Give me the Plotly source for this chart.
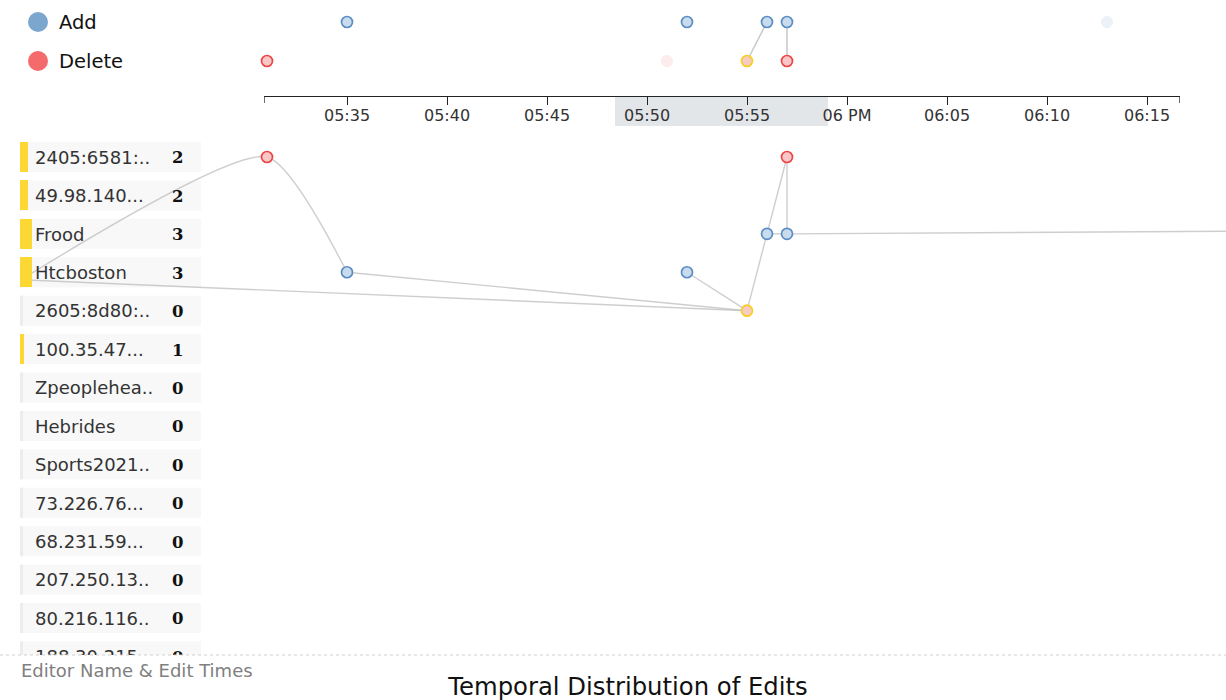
import plotly.graph_objects as go

# ---------------- data ----------------
editor_names = ["2405:6581:..", "49.98.140...", "Frood", "Htcboston", "2605:8d80:..",
                "100.35.47...", "Zpeoplehea..", "Hebrides", "Sports2021..", "73.226.76...",
                "68.231.59...", "207.250.13..", "80.216.116..", "188.30.215..."]
editor_edit_counts = [2, 2, 3, 3, 0, 1, 0, 0, 0, 0, 0, 0, 0, 0]

# edits on the timeline
edit_times = ["05:31", "05:35", "05:51", "05:52", "05:55", "05:56", "05:57", "05:57", "06:13"]
edit_types = ["Delete", "Add", "Delete", "Add", "Delete", "Add", "Add", "Delete", "Add"]
edit_state = ["on", "on", "faded", "on", "selected", "on", "on", "on", "faded"]
edit_editor_row = [0, 3, None, 3, 4, 2, 2, 0, None]

# related edits (index pairs) shown in the timeline strip
timeline_links = [(5, 4), (6, 7)]

# link anchors outside the time view (editor label / later edits)
offview_times = {"label_a": "05:19", "label_b": "05:19", "late": "06:45"}
offview_rows = {"label_a": 3.1, "label_b": 3.2, "late": 1.85}

# links in the main panel (sequences of nodes)
curved_links = [["label_a", 0, 1]]
straight_links = [[1, 4], ["label_b", 4], [3, 4], [4, 5], [5, 7], [7, 6], [5, 6], [6, "late"]]

tick_times = ["05:35", "05:40", "05:45", "05:50", "05:55", "06:00", "06:05", "06:10", "06:15"]
tick_labels = ["05:35", "05:40", "05:45", "05:50", "05:55", "06 PM", "06:05", "06:10", "06:15"]
view_span = ["05:17:39", "06:18:57"]      # full width of the main panel
axis_span = ["05:30:51", "06:16:39"]      # extent of the timeline axis
brush_span = ["05:48:24", "05:59:03"]     # selected window

type_order = ["Add", "Delete"]
legend_colors = {"Add": "#7ba7cf", "Delete": "#f56b6b"}


def to_min(t):
    parts = [int(p) for p in t.split(":")]
    h, m = parts[0], parts[1]
    s = parts[2] if len(parts) > 2 else 0
    return h * 60 + m + s / 60.0 - 300.0


# ---------------- layout geometry ----------------
W, H = 1226, 700
v0, v1 = to_min(view_span[0]), to_min(view_span[1])
a0, a1 = to_min(axis_span[0]), to_min(axis_span[1])
row_px0, row_pitch = 157.0, 38.42
main_top_px, main_bot_px = 138.0, 655.0
top_axis_px = 96.0
add_px, del_px = 22.0, 61.0

def py(p):
    return 1 - p / H

main_y_range = [(main_bot_px - row_px0) / row_pitch, (main_top_px - row_px0) / row_pitch]
top_pitch = del_px - add_px
top_y_range = [(top_axis_px - add_px) / top_pitch, -add_px / top_pitch]

# ---------------- styles ----------------
style = {
    ("Add", "on"): dict(color="#c9dcee", line=dict(color="#5b8dc4", width=1.7)),
    ("Delete", "on"): dict(color="#f8c8c8", line=dict(color="#ee4646", width=1.7)),
    ("Delete", "selected"): dict(color="#f6cbc2", line=dict(color="#f8cf1e", width=1.7)),
    ("Add", "faded"): dict(color="#edf2f8", line=dict(color="#edf2f8", width=1)),
    ("Delete", "faded"): dict(color="#fdecec", line=dict(color="#fdecec", width=1)),
}
LINK = "rgba(190,190,190,0.75)"

fig = go.Figure()

# ---------- timeline strip ----------
for (i, j) in timeline_links:
    fig.add_trace(go.Scatter(
        x=[to_min(edit_times[i]), to_min(edit_times[j])],
        y=[type_order.index(edit_types[i]), type_order.index(edit_types[j])],
        xaxis="x2", yaxis="y2", mode="lines",
        line=dict(color="#c8c8c8", width=1.5), hoverinfo="skip", showlegend=False))

for key, st in style.items():
    idx = [k for k in range(len(edit_times)) if (edit_types[k], edit_state[k]) == key]
    if not idx:
        continue
    fig.add_trace(go.Scatter(
        x=[to_min(edit_times[k]) for k in idx],
        y=[type_order.index(edit_types[k]) for k in idx],
        xaxis="x2", yaxis="y2", mode="markers", cliponaxis=False,
        marker=dict(size=11, **st), name=key[0], showlegend=False))

# ---------- main panel links ----------
def node_xy(n):
    if isinstance(n, str):
        return to_min(offview_times[n]), offview_rows[n]
    return to_min(edit_times[n]), edit_editor_row[n]

for seq in curved_links:
    pts = [node_xy(n) for n in seq]
    fig.add_trace(go.Scatter(
        x=[p[0] for p in pts], y=[p[1] for p in pts], xaxis="x", yaxis="y",
        mode="lines", line=dict(color=LINK, width=1.4, shape="spline", smoothing=0.6),
        hoverinfo="skip", showlegend=False))

sx, sy = [], []
for seq in straight_links:
    for n in seq:
        x, y = node_xy(n)
        sx.append(x)
        sy.append(y)
    sx.append(None)
    sy.append(None)
fig.add_trace(go.Scatter(x=sx, y=sy, xaxis="x", yaxis="y", mode="lines",
                         line=dict(color=LINK, width=1.4), hoverinfo="skip", showlegend=False))

# ---------- main panel points ----------
for key, st in style.items():
    idx = [k for k in range(len(edit_times))
           if (edit_types[k], edit_state[k]) == key and edit_editor_row[k] is not None]
    if not idx:
        continue
    fig.add_trace(go.Scatter(
        x=[to_min(edit_times[k]) for k in idx],
        y=[edit_editor_row[k] for k in idx],
        xaxis="x", yaxis="y", mode="markers",
        marker=dict(size=11, **st), name=key[0], showlegend=False))

# ---------- editor labels ----------
rows = list(range(len(editor_names)))
fig.add_trace(go.Bar(
    x=editor_edit_counts, y=rows, orientation="h", xaxis="x5", yaxis="y",
    base=0, width=0.78, marker=dict(color="#fdd835", line=dict(width=0)),
    hoverinfo="skip", showlegend=False))
fig.add_trace(go.Scatter(
    x=[35] * len(rows), y=[r + 0.06 for r in rows], xaxis="x4", yaxis="y", mode="text",
    text=editor_names, textposition="middle right", cliponaxis=True,
    textfont=dict(family="DejaVu Sans", size=18, color="#333333"),
    hoverinfo="skip", showlegend=False))
fig.add_trace(go.Scatter(
    x=[172] * len(rows), y=[r + 0.06 for r in rows], xaxis="x4", yaxis="y", mode="text",
    text=[str(c) for c in editor_edit_counts], textposition="middle right", cliponaxis=True,
    textfont=dict(family="DejaVu Serif", size=16.5, color="#111111", weight="bold"),
    hoverinfo="skip", showlegend=False))

shapes = []
for r in rows:
    shapes.append(dict(type="rect", xref="x4", yref="y", x0=20, x1=201, y0=r - 0.39, y1=r + 0.39,
                       fillcolor="#f8f8f8", line=dict(width=0), layer="below"))
    shapes.append(dict(type="rect", xref="x4", yref="y", x0=20, x1=23, y0=r - 0.39, y1=r + 0.39,
                       fillcolor="#ececec", line=dict(width=0), layer="below"))

# brush window
shapes.append(dict(type="rect", xref="x2", yref="paper",
                   x0=to_min(brush_span[0]), x1=to_min(brush_span[1]),
                   y0=py(126), y1=py(top_axis_px),
                   fillcolor="#e3e6e9", line=dict(width=0), layer="below"))
# axis end ticks
for e in (a0, a1):
    shapes.append(dict(type="line", xref="x2", yref="paper", x0=e, x1=e,
                       y0=py(top_axis_px), y1=py(top_axis_px + 7),
                       line=dict(color="#222222", width=1.3)))
# dashed separator
shapes.append(dict(type="line", xref="paper", yref="paper", x0=0, x1=1,
                   y0=py(655), y1=py(655), line=dict(color="#d0d0d0", width=1, dash="dot")))
# legend circles
for k, t in enumerate(type_order):
    cy = add_px + k * top_pitch
    shapes.append(dict(type="circle", xref="paper", yref="paper",
                       x0=28 / W, x1=48 / W, y0=py(cy + 10), y1=py(cy - 10),
                       fillcolor=legend_colors[t], line=dict(width=0)))

annotations = []
for k, t in enumerate(type_order):
    cy = add_px + k * top_pitch
    annotations.append(dict(text=t, xref="paper", yref="paper", x=57 / W, y=py(cy),
                            xanchor="left", yanchor="middle", showarrow=False,
                            font=dict(family="DejaVu Sans", size=19.5, color="#111111")))
annotations.append(dict(text="Editor Name & Edit Times", xref="paper", yref="paper",
                        x=19 / W, y=py(670), xanchor="left", yanchor="middle", showarrow=False,
                        font=dict(family="DejaVu Sans", size=18, color="#808080")))

fig.update_layout(
    width=W, height=H, autosize=False,
    margin=dict(l=0, r=0, t=0, b=0, pad=0),
    paper_bgcolor="white", plot_bgcolor="rgba(0,0,0,0)",
    title=dict(text="Temporal Distribution of Edits", x=628 / W, xanchor="center",
               y=py(686), yanchor="middle",
               font=dict(family="DejaVu Sans", size=24.3, color="#111111")),
    xaxis=dict(domain=[0, 1], range=[v0, v1], visible=False, anchor="y"),
    yaxis=dict(domain=[py(main_bot_px), py(main_top_px)], range=main_y_range,
               visible=False, anchor="x"),
    xaxis4=dict(overlaying="x", range=[0, W], visible=False, anchor="y"),
    xaxis5=dict(overlaying="x", range=[-20 / 4.0, (W - 20) / 4.0], visible=False, anchor="y"),
    xaxis2=dict(domain=[(a0 - v0) / (v1 - v0), (a1 - v0) / (v1 - v0)], range=[a0, a1],
                anchor="y2", side="bottom", showline=True, linecolor="#222222", linewidth=1.3,
                ticks="outside", ticklen=8, tickwidth=1.3, tickcolor="#222222",
                ticklabelstandoff=-3,
                tickmode="array", tickvals=[to_min(t) for t in tick_times], ticktext=tick_labels,
                tickfont=dict(family="DejaVu Sans", size=16, color="#333333"),
                showgrid=False, zeroline=False),
    yaxis2=dict(domain=[py(top_axis_px), 1], range=top_y_range, visible=False, anchor="x2"),
    shapes=shapes, annotations=annotations,
    showlegend=False, bargap=0,
)

fig.write_html("out.html", config={"displayModeBar": False},
               post_script="document.body.style.margin='0';document.body.style.overflow='hidden';")
